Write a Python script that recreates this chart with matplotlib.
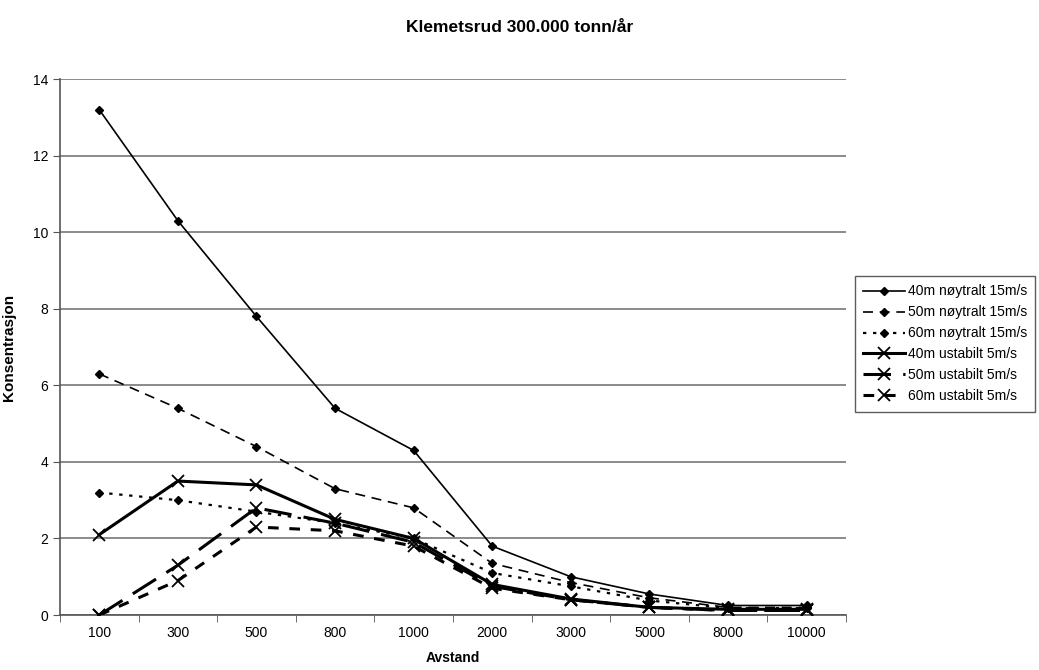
import numpy as np
import matplotlib.pyplot as plt

plt.rcParams['font.family'] = ['Liberation Sans', 'DejaVu Sans']

avstand = ['100', '300', '500', '800', '1000', '2000', '3000', '5000', '8000', '10000']

n40_noy = [13.2, 10.3, 7.8, 5.4, 4.3, 1.8, 1.0, 0.55, 0.25, 0.25]
n50_noy = [6.3, 5.4, 4.4, 3.3, 2.8, 1.35, 0.85, 0.45, 0.2, 0.2]
n60_noy = [3.2, 3.0, 2.7, 2.4, 2.0, 1.1, 0.75, 0.38, 0.18, 0.18]
u40 = [2.1, 3.5, 3.4, 2.5, 2.0, 0.8, 0.42, 0.2, 0.15, 0.15]
u50 = [0.0, 1.3, 2.8, 2.4, 1.9, 0.75, 0.4, 0.2, 0.12, 0.12]
u60 = [0.0, 0.9, 2.3, 2.2, 1.8, 0.7, 0.4, 0.2, 0.12, 0.12]

labels = ['40m nøytralt 15m/s', '50m nøytralt 15m/s', '60m nøytralt 15m/s',
          '40m ustabilt 5m/s', '50m ustabilt 5m/s', '60m ustabilt 5m/s']

fig = plt.figure(figsize=(10.39, 6.7), dpi=100)
ax = fig.add_axes([0.0577, 0.082, 0.7565, 0.8])
x = np.arange(len(avstand))

styles = [
    dict(ls='-', lw=1.2, marker='D', ms=4.5),
    dict(ls=(0, (6, 4)), lw=1.2, marker='D', ms=4.5),
    dict(ls=(0, (1.5, 3)), lw=1.6, marker='D', ms=4.5),
    dict(ls='-', lw=2.2, marker='x', ms=8, mew=1.3),
    dict(ls=(0, (9, 4)), lw=2.2, marker='x', ms=8, mew=1.3),
    dict(ls=(0, (3.5, 3.5)), lw=2.2, marker='x', ms=8, mew=1.3),
]
series = [n40_noy, n50_noy, n60_noy, u40, u50, u60]
handles = []
for s, st, lab in zip(series, styles, labels):
    h, = ax.plot(x, s, color='black', label=lab, zorder=3, **st)
    handles.append(h)

ax.set_xlim(-0.5, len(avstand) - 0.5)
ax.set_ylim(0, 14)
ax.set_yticks(range(0, 15, 2))
ax.set_xticks(x)
ax.set_xticklabels(avstand, fontsize=10)
ax.set_xticks(np.arange(-0.5, len(avstand)), minor=True)
ax.tick_params(axis='x', which='major', length=0, pad=8)
ax.tick_params(axis='x', which='minor', length=5, color='#555555', direction='out')
ax.tick_params(axis='y', length=5, color='#555555', labelsize=10)
ax.grid(axis='y', color='#777777', lw=1.2)
ax.set_axisbelow(True)
for sp in ['top', 'right']:
    ax.spines[sp].set_visible(False)
for sp in ['left', 'bottom']:
    ax.spines[sp].set_color('#555555')
    ax.spines[sp].set_linewidth(1.2)

ax.set_xlabel('Avstand', fontsize=10, fontweight='bold', labelpad=8)
ax.set_ylabel('Konsentrasjon', fontsize=11, fontweight='bold', labelpad=12)
fig.suptitle('Klemetsrud 300.000 tonn/år', fontsize=12.5, fontweight='bold', y=0.97)

leg = ax.legend(handles=handles, loc='center left', bbox_to_anchor=(1.0115, 0.506),
                frameon=True, fancybox=False, edgecolor='#333333', fontsize=10,
                handlelength=3.0, handletextpad=0.2, borderpad=0.6,
                labelspacing=0.5, borderaxespad=0)
leg.get_frame().set_linewidth(1.0)

fig.savefig('out.png', dpi=100)
